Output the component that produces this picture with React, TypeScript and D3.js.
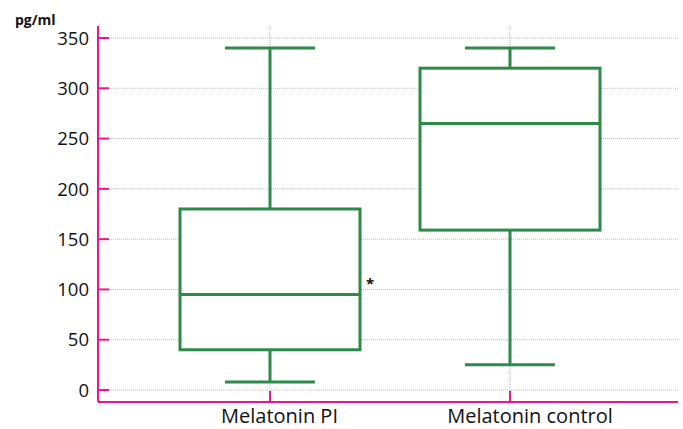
import React from "react";
import * as d3 from "d3";

const categories = ["Melatonin PI", "Melatonin control"];
const minVals = [8, 25];
const q1Vals = [40, 159];
const medianVals = [95, 265];
const q3Vals = [180, 320];
const maxVals = [340, 340];
const yTicks = [0, 50, 100, 150, 200, 250, 300, 350];

export default function App() {
  const W = 683, H = 429;
  const axisX = 98, axisTop = 26, axisBottom = 402, right = 678;
  const y = d3.scaleLinear().domain([0, 350]).range([390, 38]);
  const x = d3.scalePoint<string>().domain(categories).range([270, 510]);
  const boxW = 180, capW = 90;
  const green = "#2e8a47";
  const pink = "#ec168c";
  const font = "'Open Sans', sans-serif";
  const labelShift = [9.5, 20];
  return (
    <svg width={W} height={H} style={{ position: "absolute", left: 0, top: 0 }}>
      <rect width={W} height={H} fill="#fff" />
      {yTicks.map((t) => (
        <line key={"g" + t} x1={axisX + 11} x2={right} y1={y(t)} y2={y(t)} stroke="#bbb" strokeWidth={1} strokeDasharray="1,1" />
      ))}
      {categories.map((c) => (
        <line key={"v" + c} x1={x(c)} x2={x(c)} y1={axisTop} y2={axisBottom} stroke="#bbb" strokeWidth={1} strokeDasharray="1,1" />
      ))}
      {categories.map((c, i) => {
        const cx = x(c)!;
        return (
          <g key={c} stroke={green} strokeWidth={3}>
            <line x1={cx} x2={cx} y1={y(maxVals[i])} y2={y(q3Vals[i])} />
            <line x1={cx} x2={cx} y1={y(q1Vals[i])} y2={y(minVals[i])} />
            <line x1={cx - capW / 2} x2={cx + capW / 2} y1={y(maxVals[i])} y2={y(maxVals[i])} />
            <line x1={cx - capW / 2} x2={cx + capW / 2} y1={y(minVals[i])} y2={y(minVals[i])} />
            <rect x={cx - boxW / 2} width={boxW} y={y(q3Vals[i])} height={y(q1Vals[i]) - y(q3Vals[i])} fill="#fff" />
            <line x1={cx - boxW / 2} x2={cx + boxW / 2} y1={y(medianVals[i])} y2={y(medianVals[i])} />
          </g>
        );
      })}
      <line x1={axisX} x2={axisX} y1={axisTop} y2={axisBottom} stroke={pink} strokeWidth={2} />
      <line x1={axisX} x2={right} y1={axisBottom} y2={axisBottom} stroke={pink} strokeWidth={2} />
      {yTicks.map((t) => (
        <g key={"t" + t}>
          <line x1={axisX} x2={axisX + 11} y1={y(t)} y2={y(t)} stroke={pink} strokeWidth={2} />
          <text x={89} y={y(t)} dy="0.36em" textAnchor="end" fontFamily={font} fontSize={18.5} fill="#111">{t}</text>
        </g>
      ))}
      {categories.map((c, i) => (
        <g key={"c" + c}>
          <line x1={x(c)} x2={x(c)} y1={axisBottom} y2={axisBottom - 11} stroke={pink} strokeWidth={2} />
          <text x={x(c)! + labelShift[i]} y={423} textAnchor="middle" fontFamily={font} fontSize={20} fill="#111">{c}</text>
        </g>
      ))}
      <text x={15} y={25} fontFamily={font} fontSize={14} fontWeight="bold" fill="#111">pg/ml</text>
      <text x={370} y={289} textAnchor="middle" fontFamily={font} fontSize={15} fontWeight="bold" fill="#111">*</text>
    </svg>
  );
}
